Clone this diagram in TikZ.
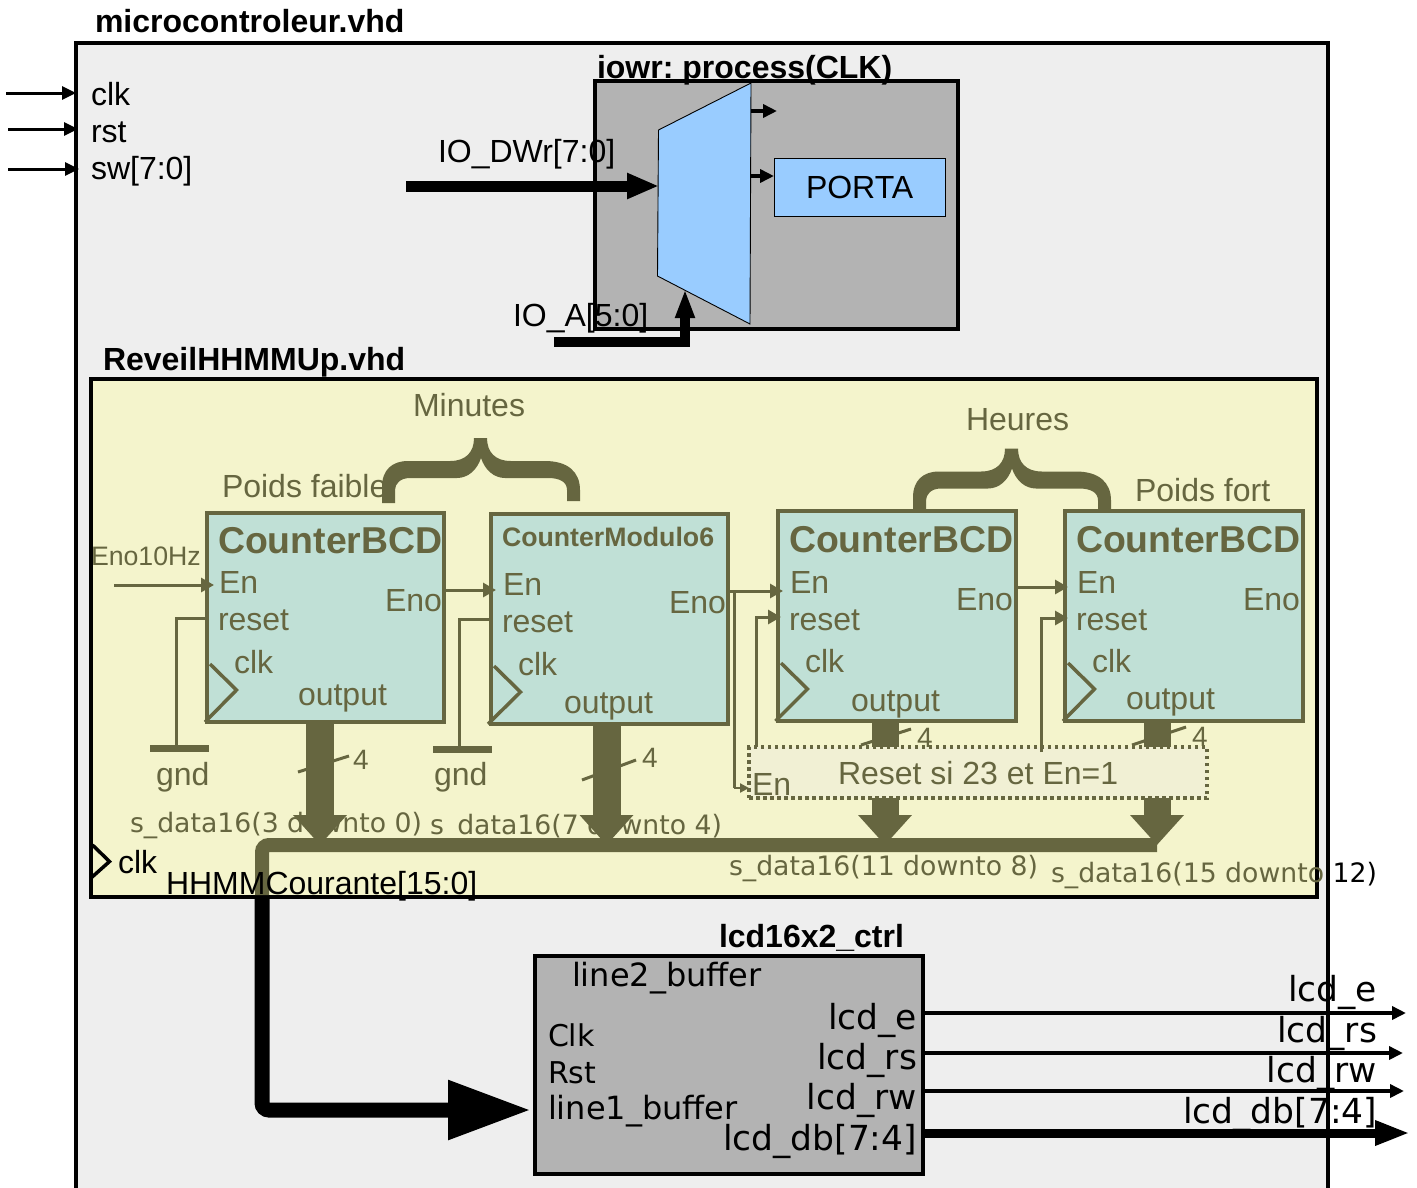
\documentclass[tikz,border=0pt]{standalone}
\usepackage{fontspec}
\setmainfont{Liberation Sans}
\newfontfamily\djv{DejaVu Sans}
\usetikzlibrary{arrows.meta}
\definecolor{olv}{HTML}{666640}
\definecolor{yel}{HTML}{F4F4CC}
\definecolor{tealb}{HTML}{C0E0D6}
\definecolor{greyb}{HTML}{B3B3B3}
\definecolor{lgrey}{HTML}{EEEEEE}
\definecolor{blu}{HTML}{99CCFF}
\definecolor{rst}{HTML}{F1F0D4}
\newcommand{\bracepath}{(382,503) -- (382,487) .. controls (382,470) and (392,461) .. (408,461) -- (450,461) .. controls (466,461) and (474,452) .. (474,438) -- (487,438) .. controls (487,452) and (495,461) .. (511,461) -- (545,461) .. controls (568,461) and (580,472) .. (580,490) -- (580,501) -- (567,501) -- (567,490) .. controls (567,482) and (560,478) .. (548,478) -- (505,478) .. controls (494,478) and (485,470) .. (481,458) .. controls (477,470) and (468,478) .. (457,478) -- (410,478) .. controls (400,478) and (395,484) .. (395,490) -- (395,503) -- cycle}
\tikzset{
  lab/.style={anchor=base west,inner sep=0pt,outer sep=0pt,font=\fontsize{32pt}{36pt}\selectfont},
  labr/.style={anchor=base east,inner sep=0pt,outer sep=0pt,font=\djv\fontsize{34.5pt}{38pt}\selectfont},
  ol/.style={lab,text=olv},
  bold32/.style={lab,font=\bfseries\fontsize{32pt}{36pt}\selectfont},
  bcd/.style={lab,text=olv,font=\bfseries\fontsize{37.4pt}{40pt}\selectfont},
  sdata/.style={lab,text=olv,font=\djv\fontsize{26.7pt}{30pt}\selectfont},
  dj32/.style={lab,font=\djv\fontsize{32pt}{36pt}\selectfont},
  dj30/.style={lab,font=\djv\fontsize{30pt}{34pt}\selectfont},
  cbox/.style={draw=olv,fill=tealb,line width=3.5pt,anchor=north west,inner sep=0pt,outer sep=0pt,minimum width=237pt,minimum height=209pt},
  blockbox/.style={draw=black,anchor=north west,inner sep=0pt,outer sep=0pt},
  owire/.style={draw=olv,line width=3pt},
  oarrow/.style={owire,-{Triangle[length=13pt,width=14pt]}},
  karrow/.style={draw=black,line width=3.5pt,-{Triangle[length=14pt,width=13pt]}},
  obus/.style={draw=olv,line width=28pt,-{Triangle[length=30pt,width=52pt]}},
  gndbar/.style={draw=olv,line width=7pt},
  clksym/.style={draw=olv,line width=3.5pt,line join=miter},
}
\begin{document}
\begin{tikzpicture}[x=1pt,y=-1pt]
\useasboundingbox (0,0) rectangle (1417,1187);
\clip (0,0) rectangle (1417,1187);
% outer
\node[blockbox,fill=lgrey,line width=3.5pt,minimum width=1252pt,minimum height=1200pt] (outer) at (76,43) {};
\node[bold32] (tmc) at (95,32) {microcontroleur.vhd};
\node[lab] (tclk) at (91,105) {clk};
\node[lab] (trst) at (91,142) {rst};
\node[lab] (tsw) at (91,179) {sw[7:0]};
\coordinate (iclk) at (6,93);
\coordinate (irst) at (8,129);
\coordinate (isw) at (8,169);
\draw[karrow,line width=3pt] (iclk) -- (outer.west |- iclk);
\draw[karrow,line width=3pt,shorten >=-2pt] (irst) -- (outer.west |- irst) ;
\draw[karrow,line width=3pt,shorten >=-3pt] (isw) -- (outer.west |- isw);
% iowr
\node[blockbox,fill=greyb,line width=4pt,minimum width=363pt,minimum height=248pt] (iowr) at (595,81) {};
\coordinate (m1) at (658.5,130);
\coordinate (m2) at (751,83);
\coordinate (m3) at (750,324);
\coordinate (m4) at (657.5,276);
\draw[black,fill=blu,line width=0.9pt] (m1) -- (m2) -- (m3) -- (m4) -- cycle;
\node[blockbox,fill=blu,line width=0.9pt,minimum width=171pt,minimum height=58pt] (porta) at (774,158) {};
\node[lab] (tporta) at (806,198) {PORTA};
\coordinate (mout1) at (751,111);
\coordinate (mout1e) at (777,111);
\coordinate (mout2) at (751,176);
\coordinate (mdin) at (406,186);
\coordinate (mdint) at (659,186);
\coordinate (main) at (554,342);
\coordinate (maint) at (685,289);
\draw[karrow] (mout1) -- (mout1e);
\draw[karrow] (mout2) -- (porta.west |- mout2);
\draw[draw=black,line width=11pt,-{Triangle[length=32pt,width=24pt]}] (mdin) -- (mdint);
\draw[draw=black,line width=10pt,-{Triangle[length=29pt,width=18pt]}] (main) -| (maint);
\node[bold32] (tiowr) at (597,78) {iowr:\hspace{9pt}process(CLK)};
\node[lab] (tdwr) at (438,162) {IO\_DWr[7:0]};
\node[lab] (ta) at (513,326) {IO\_A[5:0]};
% reveil
\node[blockbox,fill=yel,line width=3.5pt,minimum width=1226pt,minimum height=518pt] (rev) at (91,379) {};
\node[bold32] (trev) at (103,370) {ReveilHHMMUp.vhd};
\node[ol] (tmin) at (413,416) {Minutes};
\node[ol] (thr) at (966,430) {Heures};
\node[ol] (tpf) at (222,497) {Poids faible};
\node[ol] (tpfo) at (1135,501) {Poids fort};
\fill[olv] \bracepath;
\fill[olv,shift={(531,10.5)}] \bracepath;
% counters
\node[cbox] (c1) at (207,513) {};
\node[cbox,minimum height=210pt] (c2) at (491,514) {};
\node[cbox,minimum width=238pt,minimum height=210pt] (c3) at (778,511) {};
\node[cbox,minimum width=238pt,minimum height=210pt] (c4) at (1065,511) {};
\draw[clksym] (210,664) -- (236.5,690) -- (205,722);
\draw[clksym] (494,666) -- (520.5,692) -- (488,724);
\draw[clksym] (781,663) -- (807.5,689) -- (775.5,721);
\draw[clksym] (1068,663) -- (1094.5,689) -- (1063,721);
\node[bcd] (t1a) at (218,553) {CounterBCD};
\node[ol] (t1b) at (219,593) {En};
\node[ol] (t1c) at (218,630) {reset};
\node[ol] (t1d) at (234,673) {clk};
\node[ol] (t1e) at (298,705) {output};
\node[ol] (t1f) at (385,611) {Eno};
\node[lab,text=olv,font=\bfseries\fontsize{26.7pt}{32pt}\selectfont] (t2a) at (502,546) {CounterModulo6};
\node[ol] (t2b) at (503,595) {En};
\node[ol] (t2c) at (502,632) {reset};
\node[ol] (t2d) at (518,675) {clk};
\node[ol] (t2e) at (564,713) {output};
\node[ol] (t2f) at (669,613) {Eno};
\node[bcd] (t3a) at (789,552) {CounterBCD};
\node[ol] (t3b) at (790,593) {En};
\node[ol] (t3c) at (789,630) {reset};
\node[ol] (t3d) at (805,672) {clk};
\node[ol] (t3e) at (851,711) {output};
\node[ol] (t3f) at (956,610) {Eno};
\node[bcd] (t4a) at (1076,552) {CounterBCD};
\node[ol] (t4b) at (1077,593) {En};
\node[ol] (t4c) at (1076,630) {reset};
\node[ol] (t4d) at (1092,672) {clk};
\node[ol] (t4e) at (1126,709) {output};
\node[ol] (t4f) at (1243,610) {Eno};
\node[lab,text=olv,font=\fontsize{26.7pt}{30pt}\selectfont] (teno) at (91,565) {Eno10Hz};
% inputs
\coordinate (en1) at (114,585);
\draw[oarrow,shorten >=-7pt] (en1) -- (c1.west |- en1);
\coordinate (p12) at (0,590);
\draw[oarrow,shorten >=-5pt] (c1.east |- p12) -- (c2.west |- p12);
\coordinate (gnd1) at (176,748);
\coordinate (gnd2) at (459,749);
\coordinate (g1l) at (150,748);
\coordinate (g1r) at (209,748);
\coordinate (g2l) at (433,749);
\coordinate (g2r) at (492,749);
\coordinate (rs1) at (0,618);
\coordinate (rs2) at (0,619);
\draw[owire] (c1.west |- rs1) -| (gnd1);
\draw[owire] (c2.west |- rs2) -| (gnd2);
\draw[gndbar] (g1l) -- (g1r);
\draw[gndbar] (g2l) -- (g2r);
\node[ol] (tg1) at (156,785) {gnd};
\node[ol] (tg2) at (434,785) {gnd};
% text under the buses
\node[sdata] (ts1) at (130,832) {s\_data16(3 downto 0)};
\node[sdata] (ts2) at (430,834) {s\_data16(7 downto 4)};
\node[sdata] (ts3) at (729,875) {s\_data16(11 downto 8)};
\node[sdata] (ts4) at (1051,882) {s\_data16(15 downto \textcolor{black}{12)}};
% buses
\coordinate (b1) at (320,845);
\coordinate (b2) at (606.5,845);
\coordinate (b3) at (885,845);
\coordinate (b4) at (1157,845);
\draw[obus] (c1.south -| b1) -- (b1);
\draw[obus] (c2.south -| b2) -- (b2);
% slashes
\draw[owire] (298,772) -- (349,756);
\draw[owire] (582,780) -- (636,760);
\draw[owire] (861,745) -- (911,729);
\draw[owire] (1132,745) -- (1186,727);
\node[lab,text=olv,font=\fontsize{28pt}{32pt}\selectfont] (t41) at (353,769) {4};
\node[lab,text=olv,font=\fontsize{28pt}{32pt}\selectfont] (t42) at (642,767) {4};
\node[lab,text=olv,font=\fontsize{28pt}{32pt}\selectfont] (t43) at (917,747) {4};
\node[lab,text=olv,font=\fontsize{28pt}{32pt}\selectfont] (t44) at (1192,746) {4};
\draw[draw=olv,line width=27pt] (c3.south -| b3) -- (b3 |- 0,750);
\draw[draw=olv,line width=27pt] (c4.south -| b4) -- (b4 |- 0,750);
% reset block
\node[blockbox,draw=olv,fill=rst,line width=3.5pt,dash pattern=on 3.5pt off 3.5pt,minimum width=458pt,minimum height=51pt] (reset) at (749,747) {};
\node[ol] (trs) at (838,784) {Reset si 23 et En=1};
\node[ol] (tren) at (752,795) {En};
\draw[obus,line width=27pt] (reset.south -| b3) -- (b3);
\draw[obus,line width=27pt] (reset.south -| b4) -- (b4);
% enable and reset wiring
\coordinate (p23) at (0,591);
\coordinate (p34) at (0,587);
\coordinate (xen) at (734,788);
\coordinate (r3) at (756,617);
\coordinate (r4) at (1041,618);
\draw[oarrow,shorten >=-5pt] (c2.east |- p23) -- (c3.west |- p23);
\draw[oarrow,shorten >=-3pt] (c3.east |- p34) -- (c4.west |- p34);
\draw[owire] (xen |- p23) -- (xen);
\draw[oarrow,-{Triangle[length=9pt,width=9pt]},line width=2.5pt] (xen) -- (reset.west |- xen);
\draw[oarrow,shorten >=-3pt] (r3 |- reset.north) -- (r3) -- (c3.west |- r3);
\draw[oarrow,shorten >=-3pt] (1041,752) -- (r4) -- (c4.west |- r4);
% lcd
\node[blockbox,fill=greyb,line width=4pt,minimum width=388pt,minimum height=218pt] (lcd) at (535,956) {};
\node[bold32] (tlcd) at (719,947) {lcd16x2\_ctrl};
\node[dj32] (tl2) at (572,986) {line2\_buffer};
\node[dj30] (tclk2) at (548,1046) {Clk};
\node[dj30] (trst2) at (548,1083) {Rst};
\node[dj32] (tl1) at (548,1119) {line1\_buffer};
\node[labr] (tie) at (917,1029) {lcd\_e};
\node[labr] (tirs) at (917,1069) {lcd\_rs};
\node[labr] (tirw) at (917,1109) {lcd\_rw};
\node[labr] (tidb) at (917,1150) {lcd\_db[7:4]};
\node[labr] (toe) at (1377,1001) {lcd\_e};
\node[labr] (tors) at (1377,1042) {lcd\_rs};
\node[labr] (torw) at (1377,1082) {lcd\_rw};
\node[labr] (todb) at (1377,1123) {lcd\_db[7:4]};
\coordinate (oe) at (1406,1013);
\coordinate (ors) at (1403,1053);
\coordinate (orw) at (1404,1091);
\coordinate (odb) at (1410,1133);
\draw[karrow] (lcd.east |- oe) -- (oe);
\draw[karrow] (lcd.east |- ors) -- (ors);
\draw[karrow] (lcd.east |- orw) -- (orw);
\draw[draw=black,line width=9pt,-{Triangle[length=35pt,width=23pt]}] (lcd.east |- odb) -- (odb);
% main bus
\coordinate (bc) at (262,845);
\coordinate (bd) at (262,1110);
\coordinate (btr) at (0,895);
\draw[draw=black,line width=15pt,rounded corners=7pt,-{Triangle[length=83pt,width=56pt]},shorten >=4pt] (bc |- btr) -- (bd) -- (lcd.west |- bd);
\draw[draw=olv,line width=14pt,rounded corners=7pt] (b4) -- (bc) -- (bc |- btr);
\draw[draw=black,line width=3.5pt] (92.5,845) -- (109.5,861.5) -- (91,878);
\node[lab] (tclk3) at (118,873) {clk};
\node[lab] (thh) at (166,894) {HHMMCourante[15:0]};
\end{tikzpicture}
\end{document}
